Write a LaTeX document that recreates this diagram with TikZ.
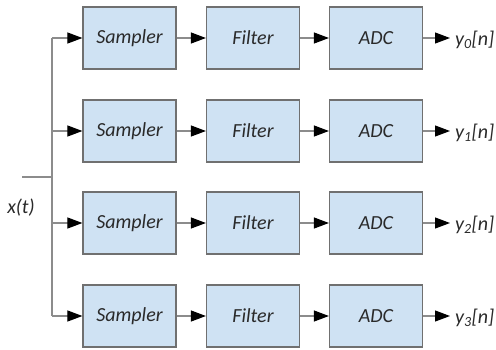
\documentclass[tikz,border=0pt]{standalone}
\usepackage{fontspec}
\setmainfont{Carlito}
\usetikzlibrary{arrows.meta}
\definecolor{boxfill}{HTML}{CFE2F3}
\definecolor{boxline}{HTML}{707070}
\definecolor{txt}{HTML}{2A2A2A}
\definecolor{wire}{HTML}{8C8C8C}
\tikzset{
  blk/.style={draw=boxline, line width=1.2pt, fill=boxfill, minimum width=93pt, minimum height=62pt, inner sep=0pt, font=\fontsize{20}{23}\selectfont\itshape, text=txt},
  arr/.style={draw=wire, line width=1.1pt, -{Triangle[length=15pt,width=11pt,fill=black,color=black]}},
  wireline/.style={draw=wire, line width=1.1pt},
  lbl/.style={font=\fontsize{20}{23}\selectfont\itshape, text=txt, inner sep=0pt}
}
\begin{document}
\begin{tikzpicture}[x=1pt,y=-1pt]
\useasboundingbox (0,0) rectangle (496,349);
\foreach \i/\yy in {0/38,1/131,2/223,3/316}{
  \node[blk] (s\i) at (129.5,\yy) {Sampler};
  \node[blk] (f\i) at (253,\yy) {Filter};
  \node[blk] (a\i) at (376,\yy) {ADC};
  \coordinate (b\i) at (52,\yy);
  \coordinate (e\i) at (450,\yy);
  \node[lbl, anchor=west] (y\i) at (455,\yy+2) {y\textsubscript{\i}[n]};
  \draw[arr] (b\i) -- (s\i);
  \draw[arr] (s\i) -- (f\i);
  \draw[arr] (f\i) -- (a\i);
  \draw[arr] (a\i) -- (e\i);
}
\draw[wireline] (b0) -- (b3);
\coordinate (in) at (22,177);
\coordinate (inj) at (52,177);
\draw[wireline] (in) -- (inj);
\node[lbl] (x) at (21,208) {x(t)};
\end{tikzpicture}
\end{document}
